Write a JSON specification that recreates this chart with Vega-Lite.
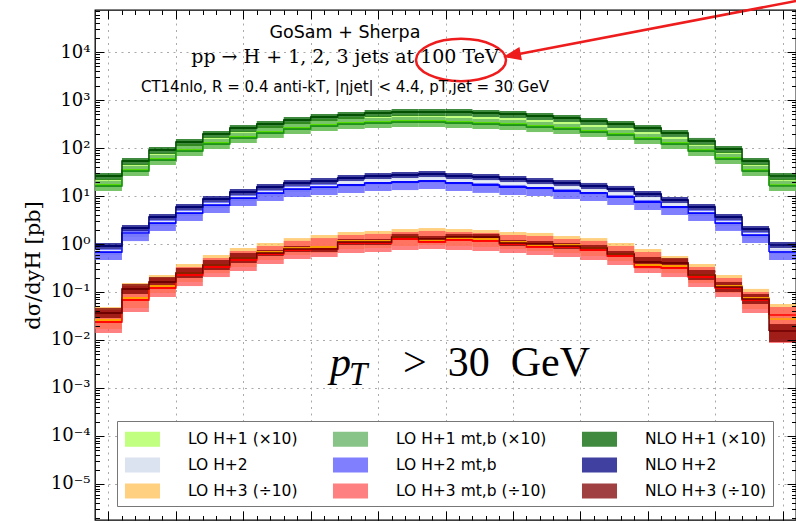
{
"$schema": "https://vega.github.io/schema/vega-lite/v6.json",
"width": 701, "height": 510,
"autosize": {"type": "none"},
"padding": {"left": 95, "top": 10, "right": 0, "bottom": 3},
"background": "white",
"datasets": {"h": [
{"s":"LO H+1 (×10)","x0":-2.6,"x1":-2.4,"c":16.9,"lo":12.7,"hi":22.6},
{"s":"LO H+1 (×10)","x0":-2.4,"x1":-2.2,"c":34.8,"lo":26.1,"hi":46.4},
{"s":"LO H+1 (×10)","x0":-2.2,"x1":-2.0,"c":59.0,"lo":44.2,"hi":78.7},
{"s":"LO H+1 (×10)","x0":-2.0,"x1":-1.8,"c":90.9,"lo":68.1,"hi":121},
{"s":"LO H+1 (×10)","x0":-1.8,"x1":-1.6,"c":127,"lo":95.3,"hi":170},
{"s":"LO H+1 (×10)","x0":-1.6,"x1":-1.4,"c":170,"lo":127,"hi":226},
{"s":"LO H+1 (×10)","x0":-1.4,"x1":-1.2,"c":215,"lo":162,"hi":287},
{"s":"LO H+1 (×10)","x0":-1.2,"x1":-1.0,"c":261,"lo":196,"hi":348},
{"s":"LO H+1 (×10)","x0":-1.0,"x1":-0.8,"c":301,"lo":226,"hi":402},
{"s":"LO H+1 (×10)","x0":-0.8,"x1":-0.6,"c":332,"lo":249,"hi":442},
{"s":"LO H+1 (×10)","x0":-0.6,"x1":-0.4,"c":348,"lo":261,"hi":464},
{"s":"LO H+1 (×10)","x0":-0.4,"x1":-0.2,"c":365,"lo":274,"hi":487},
{"s":"LO H+1 (×10)","x0":-0.2,"x1":0.0,"c":365,"lo":274,"hi":487},
{"s":"LO H+1 (×10)","x0":0.0,"x1":0.2,"c":348,"lo":261,"hi":464},
{"s":"LO H+1 (×10)","x0":0.2,"x1":0.4,"c":332,"lo":249,"hi":442},
{"s":"LO H+1 (×10)","x0":0.4,"x1":0.6,"c":316,"lo":237,"hi":422},
{"s":"LO H+1 (×10)","x0":0.6,"x1":0.8,"c":287,"lo":215,"hi":383},
{"s":"LO H+1 (×10)","x0":0.8,"x1":1.0,"c":261,"lo":196,"hi":348},
{"s":"LO H+1 (×10)","x0":1.0,"x1":1.2,"c":226,"lo":170,"hi":301},
{"s":"LO H+1 (×10)","x0":1.2,"x1":1.4,"c":196,"lo":147,"hi":261},
{"s":"LO H+1 (×10)","x0":1.4,"x1":1.6,"c":162,"lo":121,"hi":215},
{"s":"LO H+1 (×10)","x0":1.6,"x1":1.8,"c":127,"lo":95.3,"hi":170},
{"s":"LO H+1 (×10)","x0":1.8,"x1":2.0,"c":90.9,"lo":68.1,"hi":121},
{"s":"LO H+1 (×10)","x0":2.0,"x1":2.2,"c":61.9,"lo":46.4,"hi":82.5},
{"s":"LO H+1 (×10)","x0":2.2,"x1":2.4,"c":34.8,"lo":26.1,"hi":46.4},
{"s":"LO H+1 (×10)","x0":2.4,"x1":2.6,"c":16.9,"lo":12.7,"hi":22.6},
{"s":"LO H+1 mt,b (×10)","x0":-2.6,"x1":-2.4,"c":16.2,"lo":12.7,"hi":20.5},
{"s":"LO H+1 mt,b (×10)","x0":-2.4,"x1":-2.2,"c":33.2,"lo":26.1,"hi":42.2},
{"s":"LO H+1 mt,b (×10)","x0":-2.2,"x1":-2.0,"c":56.2,"lo":44.2,"hi":71.5},
{"s":"LO H+1 mt,b (×10)","x0":-2.0,"x1":-1.8,"c":86.6,"lo":68.1,"hi":110},
{"s":"LO H+1 mt,b (×10)","x0":-1.8,"x1":-1.6,"c":121,"lo":95.3,"hi":154},
{"s":"LO H+1 mt,b (×10)","x0":-1.6,"x1":-1.4,"c":162,"lo":127,"hi":205},
{"s":"LO H+1 mt,b (×10)","x0":-1.4,"x1":-1.2,"c":205,"lo":162,"hi":261},
{"s":"LO H+1 mt,b (×10)","x0":-1.2,"x1":-1.0,"c":249,"lo":196,"hi":316},
{"s":"LO H+1 mt,b (×10)","x0":-1.0,"x1":-0.8,"c":287,"lo":226,"hi":365},
{"s":"LO H+1 mt,b (×10)","x0":-0.8,"x1":-0.6,"c":316,"lo":249,"hi":402},
{"s":"LO H+1 mt,b (×10)","x0":-0.6,"x1":-0.4,"c":332,"lo":261,"hi":422},
{"s":"LO H+1 mt,b (×10)","x0":-0.4,"x1":-0.2,"c":348,"lo":274,"hi":442},
{"s":"LO H+1 mt,b (×10)","x0":-0.2,"x1":0.0,"c":348,"lo":274,"hi":442},
{"s":"LO H+1 mt,b (×10)","x0":0.0,"x1":0.2,"c":332,"lo":261,"hi":422},
{"s":"LO H+1 mt,b (×10)","x0":0.2,"x1":0.4,"c":316,"lo":249,"hi":402},
{"s":"LO H+1 mt,b (×10)","x0":0.4,"x1":0.6,"c":301,"lo":237,"hi":383},
{"s":"LO H+1 mt,b (×10)","x0":0.6,"x1":0.8,"c":274,"lo":215,"hi":348},
{"s":"LO H+1 mt,b (×10)","x0":0.8,"x1":1.0,"c":249,"lo":196,"hi":316},
{"s":"LO H+1 mt,b (×10)","x0":1.0,"x1":1.2,"c":215,"lo":170,"hi":274},
{"s":"LO H+1 mt,b (×10)","x0":1.2,"x1":1.4,"c":187,"lo":147,"hi":237},
{"s":"LO H+1 mt,b (×10)","x0":1.4,"x1":1.6,"c":154,"lo":121,"hi":196},
{"s":"LO H+1 mt,b (×10)","x0":1.6,"x1":1.8,"c":121,"lo":95.3,"hi":154},
{"s":"LO H+1 mt,b (×10)","x0":1.8,"x1":2.0,"c":86.6,"lo":68.1,"hi":110},
{"s":"LO H+1 mt,b (×10)","x0":2.0,"x1":2.2,"c":59.0,"lo":46.4,"hi":75.0},
{"s":"LO H+1 mt,b (×10)","x0":2.2,"x1":2.4,"c":33.2,"lo":26.1,"hi":42.2},
{"s":"LO H+1 mt,b (×10)","x0":2.4,"x1":2.6,"c":16.2,"lo":12.7,"hi":20.5},
{"s":"NLO H+1 (×10)","x0":-2.6,"x1":-2.4,"c":26.1,"lo":21.5,"hi":30.1},
{"s":"NLO H+1 (×10)","x0":-2.4,"x1":-2.2,"c":53.6,"lo":44.2,"hi":61.9},
{"s":"NLO H+1 (×10)","x0":-2.2,"x1":-2.0,"c":90.9,"lo":75.0,"hi":105},
{"s":"NLO H+1 (×10)","x0":-2.0,"x1":-1.8,"c":133,"lo":110,"hi":154},
{"s":"NLO H+1 (×10)","x0":-1.8,"x1":-1.6,"c":196,"lo":162,"hi":226},
{"s":"NLO H+1 (×10)","x0":-1.6,"x1":-1.4,"c":261,"lo":215,"hi":301},
{"s":"NLO H+1 (×10)","x0":-1.4,"x1":-1.2,"c":316,"lo":261,"hi":365},
{"s":"NLO H+1 (×10)","x0":-1.2,"x1":-1.0,"c":383,"lo":316,"hi":442},
{"s":"NLO H+1 (×10)","x0":-1.0,"x1":-0.8,"c":442,"lo":365,"hi":511},
{"s":"NLO H+1 (×10)","x0":-0.8,"x1":-0.6,"c":487,"lo":402,"hi":562},
{"s":"NLO H+1 (×10)","x0":-0.6,"x1":-0.4,"c":536,"lo":442,"hi":619},
{"s":"NLO H+1 (×10)","x0":-0.4,"x1":-0.2,"c":562,"lo":464,"hi":649},
{"s":"NLO H+1 (×10)","x0":-0.2,"x1":0.0,"c":562,"lo":464,"hi":649},
{"s":"NLO H+1 (×10)","x0":0.0,"x1":0.2,"c":562,"lo":464,"hi":649},
{"s":"NLO H+1 (×10)","x0":0.2,"x1":0.4,"c":536,"lo":442,"hi":619},
{"s":"NLO H+1 (×10)","x0":0.4,"x1":0.6,"c":511,"lo":422,"hi":590},
{"s":"NLO H+1 (×10)","x0":0.6,"x1":0.8,"c":464,"lo":383,"hi":536},
{"s":"NLO H+1 (×10)","x0":0.8,"x1":1.0,"c":422,"lo":348,"hi":487},
{"s":"NLO H+1 (×10)","x0":1.0,"x1":1.2,"c":365,"lo":301,"hi":422},
{"s":"NLO H+1 (×10)","x0":1.2,"x1":1.4,"c":316,"lo":261,"hi":365},
{"s":"NLO H+1 (×10)","x0":1.4,"x1":1.6,"c":261,"lo":215,"hi":301},
{"s":"NLO H+1 (×10)","x0":1.6,"x1":1.8,"c":205,"lo":170,"hi":237},
{"s":"NLO H+1 (×10)","x0":1.8,"x1":2.0,"c":140,"lo":116,"hi":162},
{"s":"NLO H+1 (×10)","x0":2.0,"x1":2.2,"c":95.3,"lo":78.7,"hi":110},
{"s":"NLO H+1 (×10)","x0":2.2,"x1":2.4,"c":53.6,"lo":44.2,"hi":61.9},
{"s":"NLO H+1 (×10)","x0":2.4,"x1":2.6,"c":26.1,"lo":21.5,"hi":30.1},
{"s":"LO H+2","x0":-2.6,"x1":-2.4,"c":0.715,"lo":0.590,"hi":0.787},
{"s":"LO H+2","x0":-2.4,"x1":-2.2,"c":1.70,"lo":1.40,"hi":1.87},
{"s":"LO H+2","x0":-2.2,"x1":-2.0,"c":2.87,"lo":2.37,"hi":3.16},
{"s":"LO H+2","x0":-2.0,"x1":-1.8,"c":4.64,"lo":3.83,"hi":5.11},
{"s":"LO H+2","x0":-1.8,"x1":-1.6,"c":6.81,"lo":5.62,"hi":7.50},
{"s":"LO H+2","x0":-1.6,"x1":-1.4,"c":9.53,"lo":7.87,"hi":10.5},
{"s":"LO H+2","x0":-1.4,"x1":-1.2,"c":12.1,"lo":10.0,"hi":13.3},
{"s":"LO H+2","x0":-1.2,"x1":-1.0,"c":14.7,"lo":12.1,"hi":16.2},
{"s":"LO H+2","x0":-1.0,"x1":-0.8,"c":16.2,"lo":13.3,"hi":17.8},
{"s":"LO H+2","x0":-0.8,"x1":-0.6,"c":18.7,"lo":15.4,"hi":20.5},
{"s":"LO H+2","x0":-0.6,"x1":-0.4,"c":20.5,"lo":17.0,"hi":22.6},
{"s":"LO H+2","x0":-0.4,"x1":-0.2,"c":21.5,"lo":17.8,"hi":23.7},
{"s":"LO H+2","x0":-0.2,"x1":0.0,"c":22.6,"lo":18.7,"hi":24.9},
{"s":"LO H+2","x0":0.0,"x1":0.2,"c":20.5,"lo":17.0,"hi":22.6},
{"s":"LO H+2","x0":0.2,"x1":0.4,"c":19.6,"lo":16.2,"hi":21.5},
{"s":"LO H+2","x0":0.4,"x1":0.6,"c":17.8,"lo":14.7,"hi":19.6},
{"s":"LO H+2","x0":0.6,"x1":0.8,"c":16.2,"lo":13.3,"hi":17.8},
{"s":"LO H+2","x0":0.8,"x1":1.0,"c":14.7,"lo":12.1,"hi":16.2},
{"s":"LO H+2","x0":1.0,"x1":1.2,"c":12.7,"lo":10.5,"hi":14.0},
{"s":"LO H+2","x0":1.2,"x1":1.4,"c":11.0,"lo":9.09,"hi":12.1},
{"s":"LO H+2","x0":1.4,"x1":1.6,"c":8.66,"lo":7.15,"hi":9.53},
{"s":"LO H+2","x0":1.6,"x1":1.8,"c":6.49,"lo":5.36,"hi":7.15},
{"s":"LO H+2","x0":1.8,"x1":2.0,"c":4.64,"lo":3.83,"hi":5.11},
{"s":"LO H+2","x0":2.0,"x1":2.2,"c":2.87,"lo":2.37,"hi":3.16},
{"s":"LO H+2","x0":2.2,"x1":2.4,"c":1.62,"lo":1.33,"hi":1.78},
{"s":"LO H+2","x0":2.4,"x1":2.6,"c":0.750,"lo":0.619,"hi":0.825},
{"s":"LO H+2 mt,b","x0":-2.6,"x1":-2.4,"c":0.681,"lo":0.464,"hi":0.787},
{"s":"LO H+2 mt,b","x0":-2.4,"x1":-2.2,"c":1.70,"lo":1.15,"hi":1.96},
{"s":"LO H+2 mt,b","x0":-2.2,"x1":-2.0,"c":2.74,"lo":1.87,"hi":3.16},
{"s":"LO H+2 mt,b","x0":-2.0,"x1":-1.8,"c":4.42,"lo":3.01,"hi":5.11},
{"s":"LO H+2 mt,b","x0":-1.8,"x1":-1.6,"c":6.49,"lo":4.42,"hi":7.50},
{"s":"LO H+2 mt,b","x0":-1.6,"x1":-1.4,"c":9.09,"lo":6.19,"hi":10.5},
{"s":"LO H+2 mt,b","x0":-1.4,"x1":-1.2,"c":11.6,"lo":7.87,"hi":13.3},
{"s":"LO H+2 mt,b","x0":-1.2,"x1":-1.0,"c":14.0,"lo":9.53,"hi":16.2},
{"s":"LO H+2 mt,b","x0":-1.0,"x1":-0.8,"c":15.4,"lo":10.5,"hi":17.8},
{"s":"LO H+2 mt,b","x0":-0.8,"x1":-0.6,"c":17.0,"lo":11.6,"hi":19.6},
{"s":"LO H+2 mt,b","x0":-0.6,"x1":-0.4,"c":18.7,"lo":12.7,"hi":21.5},
{"s":"LO H+2 mt,b","x0":-0.4,"x1":-0.2,"c":19.6,"lo":13.3,"hi":22.6},
{"s":"LO H+2 mt,b","x0":-0.2,"x1":0.0,"c":20.5,"lo":14.0,"hi":23.7},
{"s":"LO H+2 mt,b","x0":0.0,"x1":0.2,"c":18.7,"lo":12.7,"hi":21.5},
{"s":"LO H+2 mt,b","x0":0.2,"x1":0.4,"c":17.0,"lo":11.6,"hi":19.6},
{"s":"LO H+2 mt,b","x0":0.4,"x1":0.6,"c":15.4,"lo":10.5,"hi":17.8},
{"s":"LO H+2 mt,b","x0":0.6,"x1":0.8,"c":14.7,"lo":10.0,"hi":17.0},
{"s":"LO H+2 mt,b","x0":0.8,"x1":1.0,"c":12.7,"lo":8.66,"hi":14.7},
{"s":"LO H+2 mt,b","x0":1.0,"x1":1.2,"c":11.6,"lo":7.87,"hi":13.3},
{"s":"LO H+2 mt,b","x0":1.2,"x1":1.4,"c":9.53,"lo":6.49,"hi":11.0},
{"s":"LO H+2 mt,b","x0":1.4,"x1":1.6,"c":7.50,"lo":5.11,"hi":8.66},
{"s":"LO H+2 mt,b","x0":1.6,"x1":1.8,"c":5.90,"lo":4.02,"hi":6.81},
{"s":"LO H+2 mt,b","x0":1.8,"x1":2.0,"c":4.42,"lo":3.01,"hi":5.11},
{"s":"LO H+2 mt,b","x0":2.0,"x1":2.2,"c":2.74,"lo":1.87,"hi":3.16},
{"s":"LO H+2 mt,b","x0":2.2,"x1":2.4,"c":1.54,"lo":1.05,"hi":1.78},
{"s":"LO H+2 mt,b","x0":2.4,"x1":2.6,"c":0.681,"lo":0.464,"hi":0.787},
{"s":"NLO H+2","x0":-2.6,"x1":-2.4,"c":0.909,"lo":0.787,"hi":1.05},
{"s":"NLO H+2","x0":-2.4,"x1":-2.2,"c":2.15,"lo":1.87,"hi":2.49},
{"s":"NLO H+2","x0":-2.2,"x1":-2.0,"c":3.65,"lo":3.16,"hi":4.22},
{"s":"NLO H+2","x0":-2.0,"x1":-1.8,"c":5.90,"lo":5.11,"hi":6.81},
{"s":"NLO H+2","x0":-1.8,"x1":-1.6,"c":8.66,"lo":7.50,"hi":10.0},
{"s":"NLO H+2","x0":-1.6,"x1":-1.4,"c":12.1,"lo":10.5,"hi":14.0},
{"s":"NLO H+2","x0":-1.4,"x1":-1.2,"c":15.4,"lo":13.3,"hi":17.8},
{"s":"NLO H+2","x0":-1.2,"x1":-1.0,"c":18.7,"lo":16.2,"hi":21.5},
{"s":"NLO H+2","x0":-1.0,"x1":-0.8,"c":20.5,"lo":17.8,"hi":23.7},
{"s":"NLO H+2","x0":-0.8,"x1":-0.6,"c":23.7,"lo":20.5,"hi":27.4},
{"s":"NLO H+2","x0":-0.6,"x1":-0.4,"c":26.1,"lo":22.6,"hi":30.1},
{"s":"NLO H+2","x0":-0.4,"x1":-0.2,"c":27.4,"lo":23.7,"hi":31.6},
{"s":"NLO H+2","x0":-0.2,"x1":0.0,"c":28.7,"lo":24.9,"hi":33.2},
{"s":"NLO H+2","x0":0.0,"x1":0.2,"c":26.1,"lo":22.6,"hi":30.1},
{"s":"NLO H+2","x0":0.2,"x1":0.4,"c":24.9,"lo":21.5,"hi":28.7},
{"s":"NLO H+2","x0":0.4,"x1":0.6,"c":22.6,"lo":19.6,"hi":26.1},
{"s":"NLO H+2","x0":0.6,"x1":0.8,"c":20.5,"lo":17.8,"hi":23.7},
{"s":"NLO H+2","x0":0.8,"x1":1.0,"c":18.7,"lo":16.2,"hi":21.5},
{"s":"NLO H+2","x0":1.0,"x1":1.2,"c":16.2,"lo":14.0,"hi":18.7},
{"s":"NLO H+2","x0":1.2,"x1":1.4,"c":14.0,"lo":12.1,"hi":16.2},
{"s":"NLO H+2","x0":1.4,"x1":1.6,"c":11.0,"lo":9.53,"hi":12.7},
{"s":"NLO H+2","x0":1.6,"x1":1.8,"c":8.25,"lo":7.15,"hi":9.53},
{"s":"NLO H+2","x0":1.8,"x1":2.0,"c":5.90,"lo":5.11,"hi":6.81},
{"s":"NLO H+2","x0":2.0,"x1":2.2,"c":3.65,"lo":3.16,"hi":4.22},
{"s":"NLO H+2","x0":2.2,"x1":2.4,"c":2.05,"lo":1.78,"hi":2.37},
{"s":"NLO H+2","x0":2.4,"x1":2.6,"c":0.953,"lo":0.825,"hi":1.10},
{"s":"LO H+3 (÷10)","x0":-2.6,"x1":-2.4,"c":0.0261,"lo":0.0170,"hi":0.0487},
{"s":"LO H+3 (÷10)","x0":-2.4,"x1":-2.2,"c":0.0750,"lo":0.0464,"hi":0.154},
{"s":"LO H+3 (÷10)","x0":-2.2,"x1":-2.0,"c":0.133,"lo":0.0953,"hi":0.226},
{"s":"LO H+3 (÷10)","x0":-2.0,"x1":-1.8,"c":0.249,"lo":0.162,"hi":0.383},
{"s":"LO H+3 (÷10)","x0":-1.8,"x1":-1.6,"c":0.365,"lo":0.249,"hi":0.590},
{"s":"LO H+3 (÷10)","x0":-1.6,"x1":-1.4,"c":0.511,"lo":0.332,"hi":0.825},
{"s":"LO H+3 (÷10)","x0":-1.4,"x1":-1.2,"c":0.681,"lo":0.464,"hi":1.05},
{"s":"LO H+3 (÷10)","x0":-1.2,"x1":-1.0,"c":0.825,"lo":0.590,"hi":1.33},
{"s":"LO H+3 (÷10)","x0":-1.0,"x1":-0.8,"c":0.866,"lo":0.649,"hi":1.54},
{"s":"LO H+3 (÷10)","x0":-0.8,"x1":-0.6,"c":1.16,"lo":0.787,"hi":1.78},
{"s":"LO H+3 (÷10)","x0":-0.6,"x1":-0.4,"c":1.16,"lo":0.825,"hi":1.87},
{"s":"LO H+3 (÷10)","x0":-0.4,"x1":-0.2,"c":1.40,"lo":0.909,"hi":2.05},
{"s":"LO H+3 (÷10)","x0":-0.2,"x1":0.0,"c":1.21,"lo":0.953,"hi":2.15},
{"s":"LO H+3 (÷10)","x0":0.0,"x1":0.2,"c":1.33,"lo":0.909,"hi":2.05},
{"s":"LO H+3 (÷10)","x0":0.2,"x1":0.4,"c":1.27,"lo":0.866,"hi":1.96},
{"s":"LO H+3 (÷10)","x0":0.4,"x1":0.6,"c":1.10,"lo":0.787,"hi":1.78},
{"s":"LO H+3 (÷10)","x0":0.6,"x1":0.8,"c":0.953,"lo":0.715,"hi":1.70},
{"s":"LO H+3 (÷10)","x0":0.8,"x1":1.0,"c":0.953,"lo":0.649,"hi":1.47},
{"s":"LO H+3 (÷10)","x0":1.0,"x1":1.2,"c":0.825,"lo":0.562,"hi":1.33},
{"s":"LO H+3 (÷10)","x0":1.2,"x1":1.4,"c":0.619,"lo":0.442,"hi":1.05},
{"s":"LO H+3 (÷10)","x0":1.4,"x1":1.6,"c":0.365,"lo":0.301,"hi":0.787},
{"s":"LO H+3 (÷10)","x0":1.6,"x1":1.8,"c":0.348,"lo":0.249,"hi":0.562},
{"s":"LO H+3 (÷10)","x0":1.8,"x1":2.0,"c":0.226,"lo":0.154,"hi":0.383},
{"s":"LO H+3 (÷10)","x0":2.0,"x1":2.2,"c":0.133,"lo":0.0953,"hi":0.226},
{"s":"LO H+3 (÷10)","x0":2.2,"x1":2.4,"c":0.0750,"lo":0.0442,"hi":0.116},
{"s":"LO H+3 (÷10)","x0":2.4,"x1":2.6,"c":0.0274,"lo":0.0105,"hi":0.0562},
{"s":"LO H+3 mt,b (÷10)","x0":-2.6,"x1":-2.4,"c":0.0237,"lo":0.0140,"hi":0.0422},
{"s":"LO H+3 mt,b (÷10)","x0":-2.4,"x1":-2.2,"c":0.0681,"lo":0.0383,"hi":0.133},
{"s":"LO H+3 mt,b (÷10)","x0":-2.2,"x1":-2.0,"c":0.121,"lo":0.0787,"hi":0.196},
{"s":"LO H+3 mt,b (÷10)","x0":-2.0,"x1":-1.8,"c":0.226,"lo":0.133,"hi":0.332},
{"s":"LO H+3 mt,b (÷10)","x0":-1.8,"x1":-1.6,"c":0.332,"lo":0.205,"hi":0.511},
{"s":"LO H+3 mt,b (÷10)","x0":-1.6,"x1":-1.4,"c":0.464,"lo":0.274,"hi":0.715},
{"s":"LO H+3 mt,b (÷10)","x0":-1.4,"x1":-1.2,"c":0.619,"lo":0.383,"hi":0.909},
{"s":"LO H+3 mt,b (÷10)","x0":-1.2,"x1":-1.0,"c":0.750,"lo":0.487,"hi":1.16},
{"s":"LO H+3 mt,b (÷10)","x0":-1.0,"x1":-0.8,"c":0.787,"lo":0.536,"hi":1.33},
{"s":"LO H+3 mt,b (÷10)","x0":-0.8,"x1":-0.6,"c":1.05,"lo":0.649,"hi":1.54},
{"s":"LO H+3 mt,b (÷10)","x0":-0.6,"x1":-0.4,"c":1.05,"lo":0.681,"hi":1.62},
{"s":"LO H+3 mt,b (÷10)","x0":-0.4,"x1":-0.2,"c":1.27,"lo":0.750,"hi":1.78},
{"s":"LO H+3 mt,b (÷10)","x0":-0.2,"x1":0.0,"c":1.10,"lo":0.787,"hi":1.87},
{"s":"LO H+3 mt,b (÷10)","x0":0.0,"x1":0.2,"c":1.21,"lo":0.750,"hi":1.78},
{"s":"LO H+3 mt,b (÷10)","x0":0.2,"x1":0.4,"c":1.16,"lo":0.715,"hi":1.70},
{"s":"LO H+3 mt,b (÷10)","x0":0.4,"x1":0.6,"c":1.00,"lo":0.649,"hi":1.54},
{"s":"LO H+3 mt,b (÷10)","x0":0.6,"x1":0.8,"c":0.866,"lo":0.590,"hi":1.47},
{"s":"LO H+3 mt,b (÷10)","x0":0.8,"x1":1.0,"c":0.866,"lo":0.536,"hi":1.27},
{"s":"LO H+3 mt,b (÷10)","x0":1.0,"x1":1.2,"c":0.750,"lo":0.464,"hi":1.16},
{"s":"LO H+3 mt,b (÷10)","x0":1.2,"x1":1.4,"c":0.562,"lo":0.365,"hi":0.909},
{"s":"LO H+3 mt,b (÷10)","x0":1.4,"x1":1.6,"c":0.332,"lo":0.249,"hi":0.681},
{"s":"LO H+3 mt,b (÷10)","x0":1.6,"x1":1.8,"c":0.316,"lo":0.205,"hi":0.487},
{"s":"LO H+3 mt,b (÷10)","x0":1.8,"x1":2.0,"c":0.205,"lo":0.127,"hi":0.332},
{"s":"LO H+3 mt,b (÷10)","x0":2.0,"x1":2.2,"c":0.121,"lo":0.0787,"hi":0.196},
{"s":"LO H+3 mt,b (÷10)","x0":2.2,"x1":2.4,"c":0.0681,"lo":0.0365,"hi":0.100},
{"s":"LO H+3 mt,b (÷10)","x0":2.4,"x1":2.6,"c":0.0332,"lo":0.00866,"hi":0.0487},
{"s":"NLO H+3 (÷10)","x0":-2.6,"x1":-2.4,"c":0.0365,"lo":0.0287,"hi":0.0464},
{"s":"NLO H+3 (÷10)","x0":-2.4,"x1":-2.2,"c":0.116,"lo":0.0909,"hi":0.147},
{"s":"NLO H+3 (÷10)","x0":-2.2,"x1":-2.0,"c":0.162,"lo":0.127,"hi":0.205},
{"s":"NLO H+3 (÷10)","x0":-2.0,"x1":-1.8,"c":0.249,"lo":0.196,"hi":0.316},
{"s":"NLO H+3 (÷10)","x0":-1.8,"x1":-1.6,"c":0.365,"lo":0.287,"hi":0.464},
{"s":"NLO H+3 (÷10)","x0":-1.6,"x1":-1.4,"c":0.511,"lo":0.402,"hi":0.649},
{"s":"NLO H+3 (÷10)","x0":-1.4,"x1":-1.2,"c":0.649,"lo":0.562,"hi":0.750},
{"s":"NLO H+3 (÷10)","x0":-1.2,"x1":-1.0,"c":0.787,"lo":0.681,"hi":0.909},
{"s":"NLO H+3 (÷10)","x0":-1.0,"x1":-0.8,"c":0.787,"lo":0.681,"hi":0.909},
{"s":"NLO H+3 (÷10)","x0":-0.8,"x1":-0.6,"c":1.10,"lo":0.952,"hi":1.27},
{"s":"NLO H+3 (÷10)","x0":-0.6,"x1":-0.4,"c":1.10,"lo":0.952,"hi":1.27},
{"s":"NLO H+3 (÷10)","x0":-0.4,"x1":-0.2,"c":1.40,"lo":1.21,"hi":1.62},
{"s":"NLO H+3 (÷10)","x0":-0.2,"x1":0.0,"c":1.27,"lo":1.10,"hi":1.47},
{"s":"NLO H+3 (÷10)","x0":0.0,"x1":0.2,"c":1.40,"lo":1.21,"hi":1.62},
{"s":"NLO H+3 (÷10)","x0":0.2,"x1":0.4,"c":1.40,"lo":1.21,"hi":1.62},
{"s":"NLO H+3 (÷10)","x0":0.4,"x1":0.6,"c":1.05,"lo":0.909,"hi":1.21},
{"s":"NLO H+3 (÷10)","x0":0.6,"x1":0.8,"c":1.00,"lo":0.866,"hi":1.155},
{"s":"NLO H+3 (÷10)","x0":0.8,"x1":1.0,"c":0.909,"lo":0.787,"hi":1.05},
{"s":"NLO H+3 (÷10)","x0":1.0,"x1":1.2,"c":0.825,"lo":0.714,"hi":0.953},
{"s":"NLO H+3 (÷10)","x0":1.2,"x1":1.4,"c":0.619,"lo":0.536,"hi":0.715},
{"s":"NLO H+3 (÷10)","x0":1.4,"x1":1.6,"c":0.422,"lo":0.332,"hi":0.536},
{"s":"NLO H+3 (÷10)","x0":1.6,"x1":1.8,"c":0.402,"lo":0.316,"hi":0.511},
{"s":"NLO H+3 (÷10)","x0":1.8,"x1":2.0,"c":0.226,"lo":0.178,"hi":0.287},
{"s":"NLO H+3 (÷10)","x0":2.0,"x1":2.2,"c":0.127,"lo":0.100,"hi":0.162},
{"s":"NLO H+3 (÷10)","x0":2.2,"x1":2.4,"c":0.0715,"lo":0.0562,"hi":0.0909},
{"s":"NLO H+3 (÷10)","x0":2.4,"x1":2.6,"c":0.0154,"lo":0.00909,"hi":0.0215}
]},
"layer": [
{
"data": {"name": "h"},
"mark": {"type": "rect", "fillOpacity": 0.75, "strokeWidth": 0},
"encoding": {
"x": {"field": "x0", "type": "quantitative", "scale": {"domain": [-2.6, 2.6], "nice": false, "zero": false},
"axis": {"orient": "bottom", "values": [-2.5,-2,-1.5,-1,-0.5,0,0.5,1,1.5,2,2.5], "tickSize": -9, "labels": false, "grid": true, "gridColor": "#aaaaaa", "gridDash": [2, 4.5], "domain": false, "title": null, "zindex": 0}},
"x2": {"field": "x1"},
"y": {"field": "lo", "type": "quantitative", "scale": {"type": "log", "domain": [0.000001778, 75000], "nice": false},
"axis": {"orient": "left", "values": [0.00001,0.0001,0.001,0.01,0.1,1,10,100,1000,10000], "ticks": false, "labels": true,
"labelExpr": "'10' + replace(replace(replace(replace(replace(replace(replace('' + round(log(datum.value)/LN10), '-', '⁻'), '0', '⁰'), '1', '¹'), '2', '²'), '3', '³'), '4', '⁴'), '5', '⁵')",
"labelFont": "DejaVu Serif", "labelFontSize": 18, "labelColor": "black", "labelPadding": 5,
"grid": true, "gridColor": "#aaaaaa", "gridDash": [2, 4.5], "domain": false,
"title": "dσ/dyH [pb]", "titleFont": "DejaVu Serif", "titleFontSize": 21, "titleFontWeight": "normal", "titleColor": "black", "titlePadding": 7, "zindex": 0}},
"y2": {"field": "hi"},
"fill": {"field": "s", "type": "nominal",
"scale": {"domain": ["LO H+1 (×10)", "LO H+2", "LO H+3 (÷10)", "LO H+1 mt,b (×10)", "LO H+2 mt,b", "LO H+3 mt,b (÷10)", "NLO H+1 (×10)", "NLO H+2", "NLO H+3 (÷10)"],
"range": ["#abff56", "#cfdaeb", "#ffc056", "#60b060", "#5656ff", "#ff5656", "#006300", "#000080", "#800000"]},
"legend": {"orient": "none", "legendX": 22, "legendY": 411, "columns": 3, "title": null,
"symbolType": "M-1.46,-0.625H1.46V0.625H-1.46Z", "symbolSize": 576, "symbolStrokeWidth": 0, "symbolOpacity": 0.75,
"symbolOffset": 7.5, "labelOffset": 33.5, "labelFont": "DejaVu Sans", "labelFontSize": 15.5, "labelColor": "black", "labelLimit": 300,
"rowPadding": 5, "columnPadding": 33, "padding": 6, "strokeColor": "#777777", "fillColor": "white", "gridAlign": "each"}}
}
},
{
"data": {"name": "h"},
"mark": {"type": "rule", "strokeWidth": 1.5},
"encoding": {
"x": {"field": "x0", "type": "quantitative", "axis": {"orient": "top", "values": [-2.5,-2,-1.5,-1,-0.5,0,0.5,1,1.5,2,2.5], "tickSize": -9, "labels": false, "grid": false, "domain": false, "title": null, "tickColor": "black", "zindex": 1}},
"x2": {"field": "x1"},
"y": {"field": "c", "type": "quantitative", "axis": {"orient": "left", "values": [0.00001,0.0001,0.001,0.01,0.1,1,10,100,1000,10000], "tickSize": -9, "labels": false, "grid": false, "domain": false, "title": null, "tickColor": "black", "zindex": 1}},
"stroke": {"field": "s", "type": "nominal",
"scale": {"domain": ["LO H+1 (×10)", "LO H+2", "LO H+3 (÷10)", "LO H+1 mt,b (×10)", "LO H+2 mt,b", "LO H+3 mt,b (÷10)", "NLO H+1 (×10)", "NLO H+2", "NLO H+3 (÷10)"],
"range": ["#55dd00", "#e8eef8", "#ffa500", "#1a8f1a", "#0000ff", "#ff0000", "#004d00", "#00006e", "#6e0000"]},
"legend": null}
}
},
{
"data": {"name": "h"},
"mark": {"type": "line", "interpolate": "step-after", "strokeWidth": 1.5},
"encoding": {
"x": {"field": "x0", "type": "quantitative", "axis": {"orient": "bottom", "values": [-2.5,-2.4,-2.3,-2.2,-2.1,-2,-1.9,-1.8,-1.7,-1.6,-1.5,-1.4,-1.3,-1.2,-1.1,-1,-0.9,-0.8,-0.7,-0.6,-0.5,-0.4,-0.3,-0.2,-0.1,0,0.1,0.2,0.3,0.4,0.5,0.6,0.7,0.8,0.9,1,1.1,1.2,1.3,1.4,1.5,1.6,1.7,1.8,1.9,2,2.1,2.2,2.3,2.4,2.5], "tickSize": -4.5, "labels": false, "grid": false, "domain": false, "title": null, "tickColor": "black", "zindex": 1}},
"y": {"field": "c", "type": "quantitative", "axis": {"orient": "left", "values": [0.000002,0.000003,0.000004,0.000005,0.000006,0.000007,0.000008,0.000009,0.00002,0.00003,0.00004,0.00005,0.00006,0.00007,0.00008,0.00009,0.0002,0.0003,0.0004,0.0005,0.0006,0.0007,0.0008,0.0009,0.002,0.003,0.004,0.005,0.006,0.007,0.008,0.009,0.02,0.03,0.04,0.05,0.06,0.07,0.08,0.09,0.2,0.3,0.4,0.5,0.6,0.7,0.8,0.9,2,3,4,5,6,7,8,9,20,30,40,50,60,70,80,90,200,300,400,500,600,700,800,900,2000,3000,4000,5000,6000,7000,8000,9000,20000,30000,40000,50000,60000,70000], "tickSize": -4.5, "labels": false, "grid": false, "domain": false, "title": null, "tickColor": "black", "zindex": 1}},
"stroke": {"field": "s", "type": "nominal", "legend": null}
}
},
{
"data": {"values": [{}]},
"mark": {"type": "point", "shape": "M-1,0A1,0.47,0,1,0,1,0A1,0.47,0,1,0,-1,0Z", "size": 8100, "filled": false, "stroke": "#ee1c1c", "strokeWidth": 2.5, "opacity": 1},
"encoding": {
"x": {"datum": 0.115, "type": "quantitative", "axis": {"orient": "top", "values": [-2.5,-2.4,-2.3,-2.2,-2.1,-2,-1.9,-1.8,-1.7,-1.6,-1.5,-1.4,-1.3,-1.2,-1.1,-1,-0.9,-0.8,-0.7,-0.6,-0.5,-0.4,-0.3,-0.2,-0.1,0,0.1,0.2,0.3,0.4,0.5,0.6,0.7,0.8,0.9,1,1.1,1.2,1.3,1.4,1.5,1.6,1.7,1.8,1.9,2,2.1,2.2,2.3,2.4,2.5], "tickSize": -4.5, "labels": false, "grid": false, "domain": false, "title": null, "tickColor": "black", "zindex": 1}},
"y": {"datum": 6813, "type": "quantitative", "axis": {"orient": "right", "values": [0.00001,0.0001,0.001,0.01,0.1,1,10,100,1000,10000], "tickSize": -9, "labels": false, "grid": false, "domain": false, "title": null, "tickColor": "black", "zindex": 1}}
}
},
{
"data": {"values": [{}]},
"mark": {"type": "point", "shape": "M0,0L-2,-0.75L-2,0.75Z", "size": 324, "filled": true, "fill": "#ee1c1c", "strokeWidth": 0, "angle": 169.2, "opacity": 1},
"encoding": {
"x": {"datum": 0.4265, "type": "quantitative", "axis": null},
"y": {"datum": 7867, "type": "quantitative", "axis": {"orient": "right", "values": [0.000002,0.000003,0.000004,0.000005,0.000006,0.000007,0.000008,0.000009,0.00002,0.00003,0.00004,0.00005,0.00006,0.00007,0.00008,0.00009,0.0002,0.0003,0.0004,0.0005,0.0006,0.0007,0.0008,0.0009,0.002,0.003,0.004,0.005,0.006,0.007,0.008,0.009,0.02,0.03,0.04,0.05,0.06,0.07,0.08,0.09,0.2,0.3,0.4,0.5,0.6,0.7,0.8,0.9,2,3,4,5,6,7,8,9,20,30,40,50,60,70,80,90,200,300,400,500,600,700,800,900,2000,3000,4000,5000,6000,7000,8000,9000,20000,30000,40000,50000,60000,70000], "tickSize": -4.5, "labels": false, "grid": false, "domain": false, "title": null, "tickColor": "black", "zindex": 1}}
}
},
{
"data": {"values": [{}]},
"mark": {"type": "rule", "color": "#ee1c1c", "strokeWidth": 2.5},
"encoding": {
"x": {"datum": 0.486, "type": "quantitative", "axis": null},
"y": {"datum": 8453, "type": "quantitative", "axis": null},
"x2": {"datum": 2.63},
"y2": {"datum": 119700}
}
},
{
"data": {"values": [{}]},
"mark": {"type": "text", "text": "GoSam + Sherpa", "font": "DejaVu Sans", "fontSize": 17.5, "align": "center", "baseline": "alphabetic", "color": "black"},
"encoding": {"x": {"datum": -0.746, "type": "quantitative", "axis": null}, "y": {"datum": 20050, "type": "quantitative", "axis": null}}
},
{
"data": {"values": [{}]},
"mark": {"type": "text", "text": "pp → H + 1, 2, 3 jets at 100 TeV", "font": "DejaVu Serif", "fontSize": 19, "align": "center", "baseline": "alphabetic", "color": "black"},
"encoding": {"x": {"datum": -0.746, "type": "quantitative", "axis": null}, "y": {"datum": 5817, "type": "quantitative", "axis": null}}
},
{
"data": {"values": [{}]},
"mark": {"type": "text", "text": "CT14nlo, R = 0.4 anti-kT, |ηjet| < 4.4, pT,jet = 30 GeV", "font": "DejaVu Sans", "fontSize": 15, "align": "center", "baseline": "alphabetic", "color": "black"},
"encoding": {"x": {"datum": -0.746, "type": "quantitative", "axis": null}, "y": {"datum": 1489, "type": "quantitative", "axis": null}}
},
{
"data": {"values": [{}]},
"mark": {"type": "text", "text": "p", "font": "Liberation Serif", "fontStyle": "italic", "fontSize": 42, "align": "left", "baseline": "alphabetic", "color": "black"},
"encoding": {"x": {"datum": -0.857, "type": "quantitative", "axis": null}, "y": {"datum": 0.00178, "type": "quantitative", "axis": null}}
},
{
"data": {"values": [{}]},
"mark": {"type": "text", "text": "T", "font": "Liberation Serif", "fontStyle": "italic", "fontSize": 33, "align": "left", "baseline": "alphabetic", "color": "black"},
"encoding": {"x": {"datum": -0.716, "type": "quantitative", "axis": null}, "y": {"datum": 0.00115, "type": "quantitative", "axis": null}}
},
{
"data": {"values": [{}]},
"mark": {"type": "text", "text": "> \u00a030 \u00a0GeV", "font": "Liberation Serif", "fontSize": 42, "align": "left", "baseline": "alphabetic", "color": "black"},
"encoding": {"x": {"datum": -0.315, "type": "quantitative", "axis": null}, "y": {"datum": 0.00178, "type": "quantitative", "axis": null}}
}
],
"resolve": {"axis": {"x": "independent", "y": "independent"}},
"config": {
"view": {"stroke": "black", "strokeWidth": 1.3},
"axis": {"tickColor": "black", "tickWidth": 1}
}
}
